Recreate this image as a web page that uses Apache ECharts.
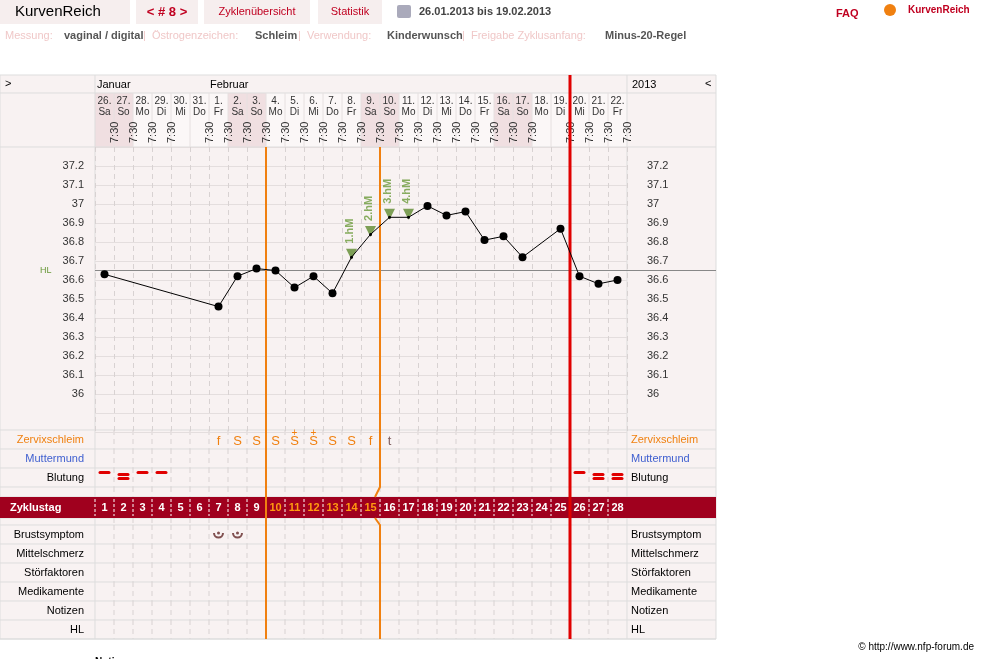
<!DOCTYPE html>
<html><head><meta charset="utf-8">
<script src="https://cdn.jsdelivr.net/npm/echarts@6/dist/echarts.min.js"></script>
<style>html,body{margin:0;background:#fff}#c{width:981px;height:659px}</style>
</head><body><div id="c"></div>
<script>
// Zyklus #8, 26.01.2013 - 22.02.2013
const dates = ['26.','27.','28.','29.','30.','31.','1.','2.','3.','4.','5.','6.','7.','8.','9.','10.','11.','12.','13.','14.','15.','16.','17.','18.','19.','20.','21.','22.']
const weekdays = ['Sa','So','Mo','Di','Mi','Do','Fr','Sa','So','Mo','Di','Mi','Do','Fr','Sa','So','Mo','Di','Mi','Do','Fr','Sa','So','Mo','Di','Mi','Do','Fr']
const times = ['7:30','7:30','7:30','7:30','','7:30','7:30','7:30','7:30','7:30','7:30','7:30','7:30','7:30','7:30','7:30','7:30','7:30','7:30','7:30','7:30','7:30','7:30','','7:30','7:30','7:30','7:30']
const temps = [36.63,null,null,null,null,null,36.46,36.62,36.66,36.65,36.56,36.62,36.53,36.72,36.84,36.93,36.93,36.99,36.94,36.96,36.81,36.83,36.72,null,36.87,36.62,36.58,36.60]
const hmLabels = {13:'1.hM',14:'2.hM',15:'3.hM',16:'4.hM'}
const schleim = ['','','','','','','f','S','S','S','S+','S+','S','S','f','t','','','','','','','','','','','','']
const blutung = [1,2,1,1,0,0,0,0,0,0,0,0,0,0,0,0,0,0,0,0,0,0,0,0,0,1,2,2]
const brust = [0,0,0,0,0,0,1,1,0,0,0,0,0,0,0,0,0,0,0,0,0,0,0,0,0,0,0,0]
const weekend = [0,1,7,8,14,15,21,22]
const yTicks = [36,36.1,36.2,36.3,36.4,36.5,36.6,36.7,36.8,36.9,37,37.1,37.2]
const hl = 36.65
const rowLabels = ['Zervixschleim','Muttermund','Blutung','','Zyklustag','','Brustsymptom','Mittelschmerz','Störfaktoren','Medikamente','Notizen','HL']
const rowTops = [430,449,468,487,497,518,525,544,563,582,601,620,639]

const chart = echarts.init(document.getElementById('c'))
const F = 'Liberation Sans, Arial, sans-serif'
const hmData = temps.map((v,i)=> hmLabels[i] ? v : null)
chart.setOption({
  animation:false,
  textStyle:{fontFamily:F},
  grid:{left:95,top:147,width:532,height:285},
  xAxis:{type:'category',data:dates,boundaryGap:true,axisLine:{show:false},axisTick:{show:false},axisLabel:{show:false},
    splitLine:{show:true,interval:0,lineStyle:{color:'#d8d2d2',type:[5,4]}}},
  yAxis:{type:'value',min:35.8,max:37.3,interval:0.1,axisLine:{show:false},axisTick:{show:false},
    axisLabel:{show:false},splitLine:{lineStyle:{color:'#e4dede'}}},
  series:[
    {type:'scatter',data:hmData,symbol:'triangle',symbolRotate:180,symbolSize:11,symbolOffset:[0,-3],itemStyle:{color:'#5e8a2e'},z:4,
      label:{show:true,position:'top',rotate:90,align:'left',verticalAlign:'middle',offset:[0,-2],color:'#6a9a3a',fontWeight:'bold',fontSize:11,
        formatter:p=>hmLabels[p.dataIndex]}},
    {type:'line',data:temps,connectNulls:true,symbol:'circle',symbolSize:(v,p)=>hmLabels[p.dataIndex]?3:8,
      lineStyle:{color:'#000',width:1},itemStyle:{color:'#000'},z:5}
  ]
})

function draw(){
  const cx = i => chart.convertToPixel({xAxisIndex:0},i)
  const cy = v => chart.convertToPixel({yAxisIndex:0},v)
  const colW = 19, L = 95, R = 627
  const g = []
  g.push({type:'rect',shape:{x:0,y:75,width:716,height:564},style:{fill:'#f8f2f2',stroke:'#ddd'},z:-10})
  g.push({type:'rect',shape:{x:L,y:93,width:R-L,height:54},style:{fill:'#fbf7f7'},z:-9})
  weekend.forEach(i=>g.push({type:'rect',shape:{x:cx(i)-colW/2,y:93,width:colW,height:54},style:{fill:'#f0dfe1'},z:-8}))
  ;[93,147].forEach(y=>g.push({type:'line',shape:{x1:0,y1:y,x2:716,y2:y},style:{stroke:'#ddd'},z:-7}))
  ;[L,R].forEach(x=>g.push({type:'line',shape:{x1:x,y1:75,x2:x,y2:639},style:{stroke:'#ddd'},z:-7}))
  g.push({type:'text',style:{x:5,y:78,text:'>',fill:'#000',font:'11px '+F}})
  g.push({type:'text',style:{x:705,y:78,text:'<',fill:'#000',font:'11px '+F}})
  g.push({type:'text',style:{x:97,y:79,text:'Januar',fill:'#000',font:'11px '+F}})
  g.push({type:'text',style:{x:210,y:79,text:'Februar',fill:'#000',font:'11px '+F}})
  g.push({type:'text',style:{x:632,y:79,text:'2013',fill:'#000',font:'11px '+F}})
  dates.forEach((d,i)=>{
    const x = cx(i)
    g.push({type:'text',style:{x:x,y:96,text:d+'\n'+weekdays[i],align:'center',fill:'#333',font:'10px '+F,lineHeight:11}})
    if(times[i]) g.push({type:'text',x:x+5,y:143,rotation:Math.PI/2,style:{x:0,y:0,text:times[i],align:'left',fill:'#333',font:'11px '+F}})
    if(i>0) g.push({type:'line',shape:{x1:x-colW/2,y1:93,x2:x-colW/2,y2:147},style:{stroke:'#e6e0e0'},z:-7})
  })
  yTicks.forEach(v=>{
    g.push({type:'text',style:{x:84,y:cy(v),text:String(v),align:'right',verticalAlign:'middle',fill:'#333',font:'11px '+F}})
    g.push({type:'text',style:{x:647,y:cy(v),text:String(v),align:'left',verticalAlign:'middle',fill:'#333',font:'11px '+F}})
  })
  g.push({type:'text',style:{x:40,y:cy(hl),text:'HL',verticalAlign:'middle',fill:'#6a9a3a',font:'9px '+F}})
  g.push({type:'line',shape:{x1:L,y1:cy(hl),x2:716,y2:cy(hl)},style:{stroke:'#888'}})
  rowLabels.forEach((t,r)=>{
    const y0=rowTops[r], y1=rowTops[r+1]
    g.push({type:'line',shape:{x1:0,y1:y0,x2:716,y2:y0},style:{stroke:'#ddd'},z:-7})
    for(let i=1;i<28;i++) g.push({type:'line',shape:{x1:cx(i)-colW/2,y1:y0,x2:cx(i)-colW/2,y2:y1},style:{stroke:'#d8d2d2',lineDash:[5,4]},z:-7})
    if(!t||t==='Zyklustag') return
    const col = t==='Zervixschleim'?'#f08010':t==='Muttermund'?'#4060d0':'#000'
    g.push({type:'text',style:{x:84,y:(y0+y1)/2,text:t,align:'right',verticalAlign:'middle',fill:col,font:'11px '+F}})
    g.push({type:'text',style:{x:631,y:(y0+y1)/2,text:t,align:'left',verticalAlign:'middle',fill:col,font:'11px '+F}})
  })
  g.push({type:'line',shape:{x1:0,y1:639,x2:716,y2:639},style:{stroke:'#ddd'}})
  g.push({type:'rect',shape:{x:0,y:497,width:716,height:21},style:{fill:'#a0001e'},z:2})
  g.push({type:'text',style:{x:10,y:507.5,text:'Zyklustag',verticalAlign:'middle',fill:'#fff',font:'bold 11px '+F},z:3})
  dates.forEach((d,i)=>{
    const x=cx(i)
    g.push({type:'text',style:{x:x,y:507.5,text:String(i+1),align:'center',verticalAlign:'middle',fill:(i>=9&&i<=14)?'#ff9a10':'#fff',font:'bold 11px '+F},z:3})
    g.push({type:'line',shape:{x1:x-colW/2,y1:499,x2:x-colW/2,y2:516},style:{stroke:'#fff',lineDash:[3,2]},z:3})
    const y=439.5
    const s=schleim[i]
    if(s){
      const base=s[0]
      g.push({type:'text',style:{x:x,y:y+2,text:base,align:'center',verticalAlign:'middle',fill:base==='t'?'#806060':'#f08010',font:'13px '+F},z:3})
      if(s.length>1) g.push({type:'text',style:{x:x,y:y-6,text:'+',align:'center',verticalAlign:'middle',fill:'#f08010',font:'10px '+F},z:3})
    }
    if(blutung[i]===1) g.push({type:'rect',shape:{x:x-6,y:471,width:12,height:3,r:1.5},style:{fill:'#e00000'},z:3})
    if(blutung[i]===2){
      g.push({type:'rect',shape:{x:x-6,y:473,width:12,height:3,r:1.5},style:{fill:'#e00000'},z:3})
      g.push({type:'rect',shape:{x:x-6,y:477,width:12,height:3,r:1.5},style:{fill:'#e00000'},z:3})
    }
    if(brust[i]){
      g.push({type:'arc',shape:{cx:x,cy:533,r:4.5,startAngle:0,endAngle:Math.PI},style:{fill:'none',stroke:'#805050',lineWidth:2},z:3})
      g.push({type:'circle',shape:{cx:x,cy:533,r:1.5},style:{fill:'#805050'},z:3})
    }
  })
  const b1=cx(9)-colW/2, b2=cx(15)-colW/2, b3=cx(25)-colW/2
  g.push({type:'line',shape:{x1:b1,y1:147,x2:b1,y2:639},style:{stroke:'#f08010',lineWidth:2},z:4})
  g.push({type:'polyline',shape:{points:[[b2,147],[b2,487],[b2-5,497]]},style:{stroke:'#f08010',lineWidth:2,fill:null},z:4})
  g.push({type:'polyline',shape:{points:[[b2-5,518],[b2,525],[b2,639]]},style:{stroke:'#f08010',lineWidth:2,fill:null},z:4})
  g.push({type:'line',shape:{x1:b3,y1:75,x2:b3,y2:639},style:{stroke:'#e00000',lineWidth:3},z:4})
  g.push({type:'rect',shape:{x:0,y:0,width:130,height:24},style:{fill:'#f6eeee'}})
  g.push({type:'text',style:{x:15,y:12,text:'KurvenReich',verticalAlign:'middle',fill:'#000',font:'15px '+F}})
  g.push({type:'rect',shape:{x:136,y:0,width:62,height:24},style:{fill:'#f6eeee'}})
  g.push({type:'text',style:{x:167,y:12,text:'< # 8 >',align:'center',verticalAlign:'middle',fill:'#c00020',font:'bold 13px '+F}})
  g.push({type:'rect',shape:{x:204,y:0,width:106,height:24},style:{fill:'#f6eeee'}})
  g.push({type:'text',style:{x:257,y:12,text:'Zyklenübersicht',align:'center',verticalAlign:'middle',fill:'#c00020',font:'11px '+F}})
  g.push({type:'rect',shape:{x:318,y:0,width:64,height:24},style:{fill:'#f6eeee'}})
  g.push({type:'text',style:{x:350,y:12,text:'Statistik',align:'center',verticalAlign:'middle',fill:'#c00020',font:'11px '+F}})
  g.push({type:'rect',shape:{x:397,y:5,width:14,height:13,r:2},style:{fill:'#aab'}})
  g.push({type:'text',style:{x:419,y:12,text:'26.01.2013 bis 19.02.2013',verticalAlign:'middle',fill:'#444',font:'bold 11px '+F}})
  g.push({type:'text',style:{x:836,y:14,text:'FAQ',verticalAlign:'middle',fill:'#c00020',font:'bold 11px '+F}})
  g.push({type:'text',style:{x:908,y:10,text:'KurvenReich',verticalAlign:'middle',fill:'#c00020',font:'bold 10px '+F}})
  g.push({type:'circle',shape:{cx:890,cy:10,r:6},style:{fill:'#f08010'}})
  const info=[['Messung:','#f0c8c8',5],['vaginal / digital','#555',64],['|  Östrogenzeichen:','#f0c8c8',143],['Schleim','#555',255],['|  Verwendung:','#f0c8c8',298],['Kinderwunsch','#555',387],['|  Freigabe Zyklusanfang:','#f0c8c8',462],['Minus-20-Regel','#555',605]]
  info.forEach(([t,c,x])=>g.push({type:'text',style:{x:x,y:36,text:t,verticalAlign:'middle',fill:c,font:(c==='#555'?'bold ':'')+'11px '+F}}))
  g.push({type:'text',style:{x:974,y:647,text:'© http://www.nfp-forum.de',align:'right',verticalAlign:'middle',fill:'#000',font:'10px '+F}})
  g.push({type:'text',style:{x:95,y:657,text:'Notizen',fill:'#000',font:'bold 10px '+F}})
  chart.setOption({graphic:{elements:g}})
}
draw()
</script></body></html>
